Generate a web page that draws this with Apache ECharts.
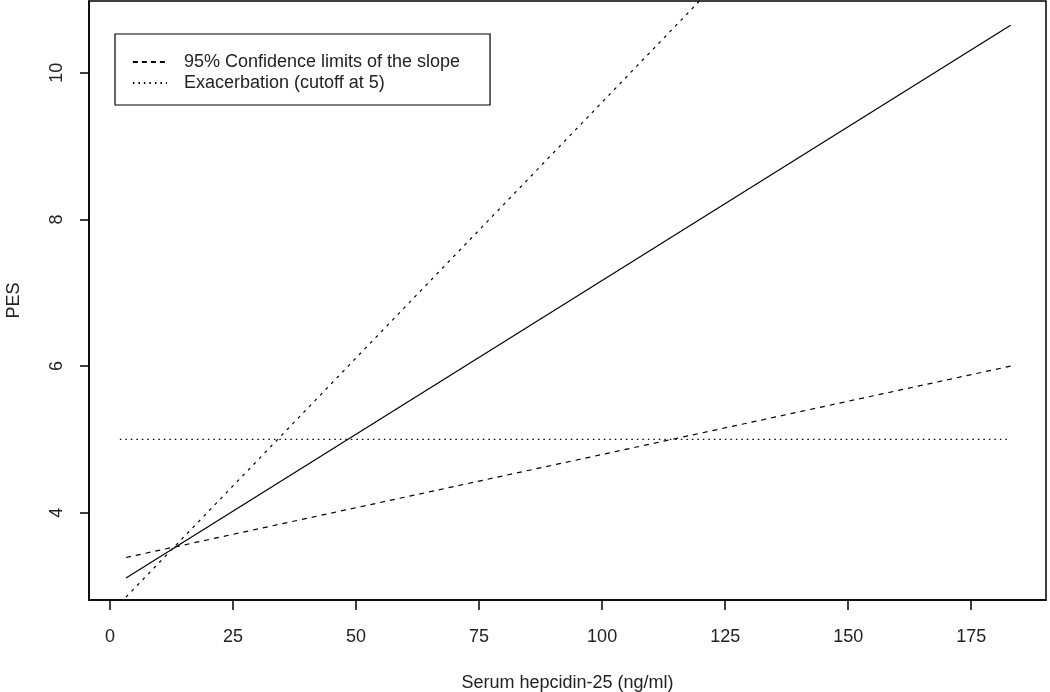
<!DOCTYPE html>
<html>
<head>
<meta charset="utf-8">
<script src="https://cdn.jsdelivr.net/npm/echarts@6/dist/echarts.min.js"></script>
<style>
html,body{margin:0;padding:0;background:#fff;}
#chart{width:1050px;height:692px;}
</style>
</head>
<body>
<div id="chart"></div>
<script>
// ---- data ----
const xTicks = [0, 25, 50, 75, 100, 125, 150, 175];
const yTicks = [4, 6, 8, 10];
const lineX = [3.25, 183];          // x range of the fitted lines
const fitY = [3.11, 10.65];         // solid regression line
const upperY = [2.85, 15.39];       // upper 95% limit of the slope
const lowerY = [3.39, 6.0];         // lower 95% limit of the slope
const cutoffX = [2, 182.5];
const cutoffY = [5, 5];
const xName = 'Serum hepcidin-25 (ng/ml)';
const yName = 'PES';
const ciName = '95% Confidence limits of the slope';
const cutName = 'Exacerbation (cutoff at 5)';

const pairs = (xs, ys) => xs.map((x, i) => [x, ys[i]]);
const font = 'Liberation Sans, Arial, sans-serif';
const txt = '#222';

const chart = echarts.init(document.getElementById('chart'));
chart.setOption({
  animation: false,
  backgroundColor: '#fff',
  grid: {
    left: 89, right: 4, top: 1, bottom: 92,
    outerBoundsMode: 'none', containLabel: false,
    show: true, borderColor: '#000', borderWidth: 1.5, backgroundColor: 'transparent'
  },
  legend: {
    data: [
      { name: ciName, lineStyle: { type: [5, 4], width: 1.8, color: '#000' } },
      { name: cutName, lineStyle: { type: [1.5, 4], width: 1.8, color: '#000' } }
    ],
    orient: 'vertical',
    left: 115, top: 34,
    padding: [19, 30, 13, 17],
    itemGap: 3,
    itemWidth: 34, itemHeight: 14,
    borderColor: '#000', borderWidth: 1.2,
    backgroundColor: '#fff',
    selectedMode: false,
    itemStyle: { opacity: 0 },
    textStyle: { fontFamily: font, fontSize: 18, color: txt, lineHeight: 18, padding: [0, 0, 0, 12] }
  },
  xAxis: {
    type: 'value', min: -4.27, max: 190.2,
    name: xName, nameLocation: 'middle', nameGap: 74,
    nameTextStyle: { fontFamily: font, fontSize: 18, color: txt },
    axisLine: { show: true, onZero: false, lineStyle: { color: '#000', width: 1.5 } },
    axisTick: { show: true, length: 10, customValues: xTicks, lineStyle: { color: '#000', width: 1.5 } },
    axisLabel: { customValues: xTicks, margin: 28, fontFamily: font, fontSize: 18, color: txt },
    splitLine: { show: false }
  },
  yAxis: {
    type: 'value', min: 2.81, max: 10.98,
    name: yName, nameLocation: 'middle', nameGap: 66,
    nameTextStyle: { fontFamily: font, fontSize: 18, color: txt },
    axisLine: { show: true, onZero: false, lineStyle: { color: '#000', width: 1.5 } },
    axisTick: { show: true, length: 9, customValues: yTicks, lineStyle: { color: '#000', width: 1.5 } },
    axisLabel: { customValues: yTicks, rotate: 90, margin: 23, fontFamily: font, fontSize: 18, color: txt },
    splitLine: { show: false }
  },
  series: [
    {
      name: 'Fit', type: 'line', data: pairs(lineX, fitY), symbol: 'none', clip: true,
      itemStyle: { color: '#000' },
      lineStyle: { color: '#000', width: 1.2, type: 'solid' }
    },
    {
      name: ciName, type: 'line', data: pairs(lineX, upperY), symbol: 'none', clip: true,
      itemStyle: { color: '#000' },
      lineStyle: { color: '#000', width: 1.2, type: [3, 5] }
    },
    {
      name: ciName, type: 'line', data: pairs(lineX, lowerY), symbol: 'none', clip: true,
      itemStyle: { color: '#000' },
      lineStyle: { color: '#000', width: 1.2, type: [5, 5] }
    },
    {
      name: cutName, type: 'line', data: pairs(cutoffX, cutoffY), symbol: 'none', clip: true,
      itemStyle: { color: '#000' },
      lineStyle: { color: '#000', width: 1.2, type: [1.5, 4] }
    }
  ]
});
</script>
</body>
</html>
